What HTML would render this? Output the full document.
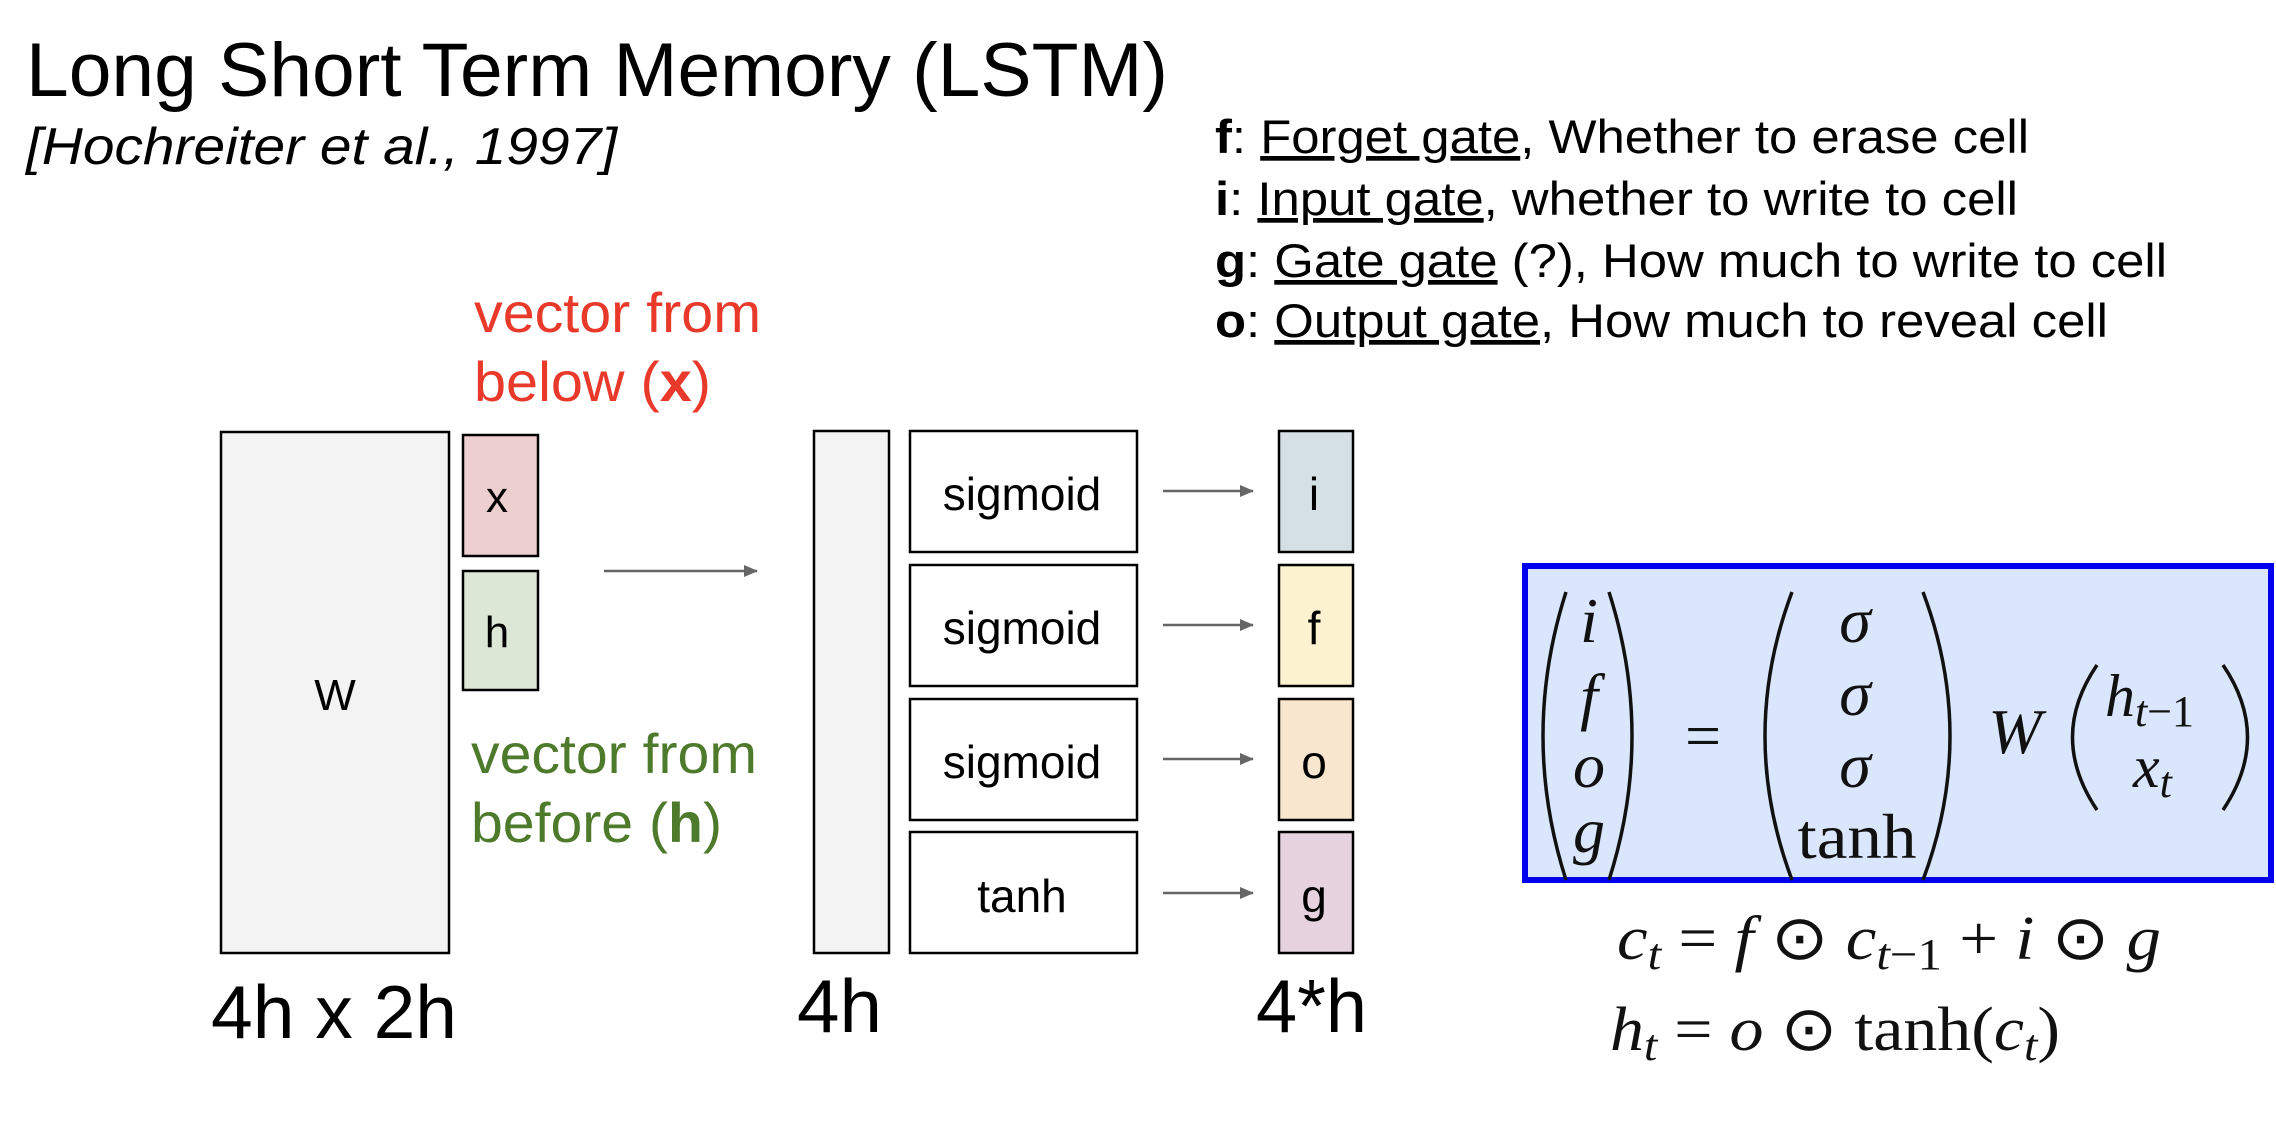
<!DOCTYPE html>
<html><head><meta charset="utf-8"><style>
html,body{margin:0;padding:0;background:#fff;}
svg{display:block;}
text{font-family:"Liberation Sans",sans-serif;}
.m{font-family:"Liberation Serif",serif;font-style:italic;}
.r{font-family:"Liberation Serif",serif;}
</style></head><body>
<svg width="2276" height="1144" viewBox="0 0 2276 1144" xmlns="http://www.w3.org/2000/svg">
<defs>
<marker id="b" markerWidth="14" markerHeight="12" refX="13" refY="6" orient="auto" markerUnits="userSpaceOnUse"><path d="M0,0 L14,6 L0,12 z" fill="#666"/></marker></defs>

<text x="26" y="96" font-size="76" textLength="1142" lengthAdjust="spacingAndGlyphs">Long Short Term Memory (LSTM)</text>
<text x="26" y="164" font-size="52" font-style="italic" textLength="591" lengthAdjust="spacingAndGlyphs">[Hochreiter et al., 1997]</text>

<g font-size="47">
<text x="1215" y="153" textLength="814" lengthAdjust="spacingAndGlyphs"><tspan font-weight="bold">f</tspan>: <tspan text-decoration="underline">Forget gate</tspan>, Whether to erase cell</text>
<text x="1215" y="215" textLength="803" lengthAdjust="spacingAndGlyphs"><tspan font-weight="bold">i</tspan>: <tspan text-decoration="underline">Input gate</tspan>, whether to write to cell</text>
<text x="1215" y="277" textLength="952" lengthAdjust="spacingAndGlyphs"><tspan font-weight="bold">g</tspan>: <tspan text-decoration="underline">Gate gate</tspan> (?), How much to write to cell</text>
<text x="1215" y="337" textLength="893" lengthAdjust="spacingAndGlyphs"><tspan font-weight="bold">o</tspan>: <tspan text-decoration="underline">Output gate</tspan>, How much to reveal cell</text>
</g>

<g font-size="56" fill="#e8392a">
<text x="474" y="332" textLength="287" lengthAdjust="spacingAndGlyphs">vector from</text>
<text x="474" y="401" textLength="237" lengthAdjust="spacingAndGlyphs">below (<tspan font-weight="bold">x</tspan>)</text>
</g>
<g font-size="56" fill="#4e7a2c">
<text x="471" y="773" textLength="286" lengthAdjust="spacingAndGlyphs">vector from</text>
<text x="471" y="842" textLength="251" lengthAdjust="spacingAndGlyphs">before (<tspan font-weight="bold">h</tspan>)</text>
</g>

<g stroke="#000" stroke-width="2.5">
<rect x="221" y="432" width="228" height="521" fill="#f3f3f3"/>
<rect x="463" y="435" width="75" height="121" fill="#eccfce"/>
<rect x="463" y="571" width="75" height="119" fill="#dce8d5"/>
<rect x="814" y="431" width="75" height="522" fill="#f3f3f3"/>
<rect x="910" y="431" width="227" height="121" fill="#fff"/>
<rect x="910" y="565" width="227" height="121" fill="#fff"/>
<rect x="910" y="699" width="227" height="121" fill="#fff"/>
<rect x="910" y="832" width="227" height="121" fill="#fff"/>
<rect x="1279" y="431" width="74" height="121" fill="#d5e0e5"/>
<rect x="1279" y="565" width="74" height="121" fill="#fdf2cf"/>
<rect x="1279" y="699" width="74" height="121" fill="#f9e6cf"/>
<rect x="1279" y="832" width="74" height="121" fill="#e6d3df"/>
</g>
<g stroke="#666" stroke-width="2.5">
<line x1="604" y1="571" x2="757" y2="571" marker-end="url(#b)"/>
<line x1="1163" y1="491" x2="1253" y2="491" marker-end="url(#b)"/>
<line x1="1163" y1="625" x2="1253" y2="625" marker-end="url(#b)"/>
<line x1="1163" y1="759" x2="1253" y2="759" marker-end="url(#b)"/>
<line x1="1163" y1="893" x2="1253" y2="893" marker-end="url(#b)"/>
</g>
<g font-size="44" text-anchor="middle">
<text x="335" y="710">W</text>
<text x="497" y="512">x</text>
<text x="497" y="647">h</text>
</g>
<g font-size="46" text-anchor="middle">
<text x="1022" y="510">sigmoid</text>
<text x="1022" y="644">sigmoid</text>
<text x="1022" y="778">sigmoid</text>
<text x="1022" y="912">tanh</text>
<text x="1314" y="510">i</text>
<text x="1314" y="644">f</text>
<text x="1314" y="778">o</text>
<text x="1314" y="912">g</text>
</g>
<g font-size="75">
<text x="211" y="1038" textLength="246" lengthAdjust="spacingAndGlyphs">4h x 2h</text>
<text x="797" y="1032" textLength="85" lengthAdjust="spacingAndGlyphs">4h</text>
<text x="1256" y="1032" textLength="111" lengthAdjust="spacingAndGlyphs">4*h</text>
</g>

<rect x="1525" y="566" width="746" height="314" fill="#dae6fb" stroke="#0000ee" stroke-width="6"/>
<g fill="none" stroke="#111" stroke-width="3.5">
<path d="M1566,592 Q1520,736 1566,880"/>
<path d="M1609,592 Q1655,736 1609,880"/>
<path d="M1792,592 Q1738,736 1792,880"/>
<path d="M1923,592 Q1977,736 1923,880"/>
<path d="M2097,665 Q2048,737 2097,810"/>
<path d="M2223,665 Q2272,737 2223,810"/>
</g>
<g font-size="64" text-anchor="middle" fill="#111">
<text class="m" x="1589" y="642">i</text>
<text class="m" x="1589" y="718">f</text>
<text class="m" x="1589" y="787">o</text>
<text class="m" x="1589" y="852">g</text>
<text class="r" x="1703" y="757">=</text>
<text class="m" x="1855" y="642">σ</text>
<text class="m" x="1855" y="715">σ</text>
<text class="m" x="1855" y="787">σ</text>
<text class="r" x="1857" y="858" textLength="119" lengthAdjust="spacingAndGlyphs">tanh</text>
<text class="m" x="2015" y="753">W</text>
</g>
<g font-size="60" fill="#111">
<text class="m" x="2105" y="716">h<tspan font-size="44" dy="10">t</tspan><tspan class="r" font-style="normal" font-size="44">−1</tspan></text>
<text class="m" x="2133" y="787">x<tspan font-size="44" dy="10">t</tspan></text>
</g>
<g font-size="62" fill="#111">
<text class="m" x="1617" y="959" textLength="544" lengthAdjust="spacingAndGlyphs">c<tspan font-size="44" dy="10">t</tspan><tspan class="r" font-style="normal" dy="-10"> = </tspan>f<tspan class="r" font-style="normal"> ⊙ </tspan>c<tspan font-size="44" dy="10">t</tspan><tspan class="r" font-style="normal" font-size="44">−1</tspan><tspan class="r" font-style="normal" dy="-10"> + </tspan>i<tspan class="r" font-style="normal"> ⊙ </tspan>g</text>
<text class="m" x="1610" y="1050" textLength="450" lengthAdjust="spacingAndGlyphs">h<tspan font-size="44" dy="10">t</tspan><tspan class="r" font-style="normal" dy="-10"> = </tspan>o<tspan class="r" font-style="normal"> ⊙ tanh(</tspan>c<tspan font-size="44" dy="10">t</tspan><tspan class="r" font-style="normal" dy="-10">)</tspan></text>
</g>
</svg>
</body></html>
